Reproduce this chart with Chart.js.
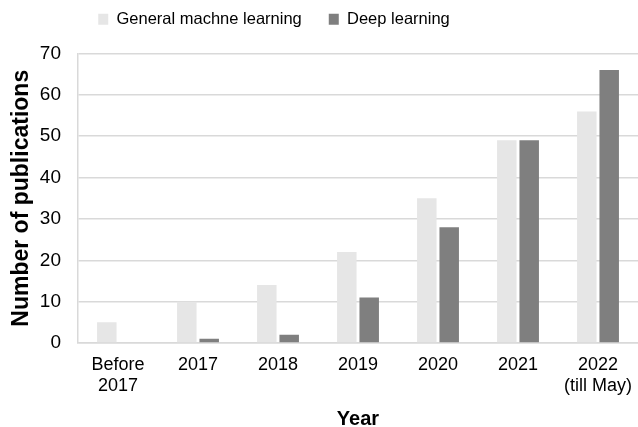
<!DOCTYPE html>
<html>
<head>
<meta charset="utf-8">
<script src="https://cdn.jsdelivr.net/npm/chart.js@4"></script>
<style>
  body { margin: 0; background: #fff; }
  #wrap { width: 638px; height: 427px; }
</style>
</head>
<body>
<div id="wrap"><canvas id="chart"></canvas></div>
<script>
const years = [['Before', '2017'], '2017', '2018', '2019', '2020', '2021', ['2022', '(till May)']];
const generalML = [5, 10, 14, 22, 35, 49, 56];
const deepLearning = [0, 1, 2, 11, 28, 49, 66];
const yTicks = [0, 10, 20, 30, 40, 50, 60, 70];

const font = "'Liberation Sans', Arial, sans-serif";

// legend in the original sits left of centre and close to the top edge
const legendShift = {
    id: 'legendShift',
    afterLayout(chart) {
        const lg = chart.legend;
        lg.left -= 45; lg.right -= 45;
        lg.top -= 16; lg.bottom -= 16;
    }
};

new Chart(document.getElementById('chart'), {
    type: 'bar',
    data: {
        labels: years,
        datasets: [{
            label: 'General machne learning',
            data: generalML,
            backgroundColor: '#e6e6e6'
        }, {
            label: 'Deep learning',
            data: deepLearning,
            backgroundColor: '#7f7f7f'
        }]
    },
    options: {
        responsive: true,
        maintainAspectRatio: false,
        animation: false,
        categoryPercentage: 0.56,
        barPercentage: 0.87,
        layout: { padding: 0 },
        plugins: {
            legend: {
                position: 'top',
                labels: {
                    boxWidth: 10, boxHeight: 11,
                    color: '#000',
                    padding: 27,
                    font: { family: font, size: 16.5 }
                }
            },
            tooltip: { enabled: false }
        },
        scales: {
            x: {
                grid: { display: false },
                border: { color: '#d9d9d9', width: 1.5 },
                ticks: { color: '#000', maxRotation: 0, font: { family: font, size: 18 } },
                title: { display: true, text: 'Year', color: '#000', padding: { top: 0, bottom: -4 }, font: { family: font, size: 20, weight: 'bold' } },
                afterFit: s => { s.height = 84; }
            },
            y: {
                min: 0, max: 70,
                afterBuildTicks: s => { s.ticks = yTicks.map(v => ({ value: v })); },
                grid: { color: '#d9d9d9', lineWidth: 1.5, drawTicks: false },
                border: { color: '#d9d9d9', width: 1.5 },
                ticks: { color: '#000', padding: 17, font: { family: font, size: 19 } },
                title: { display: true, text: 'Number of publications', color: '#000', padding: 8, font: { family: font, size: 23, weight: 'bold' } },
                afterFit: s => { s.width = 78; }
            }
        }
    },
    plugins: [legendShift]
});
</script>
</body>
</html>
